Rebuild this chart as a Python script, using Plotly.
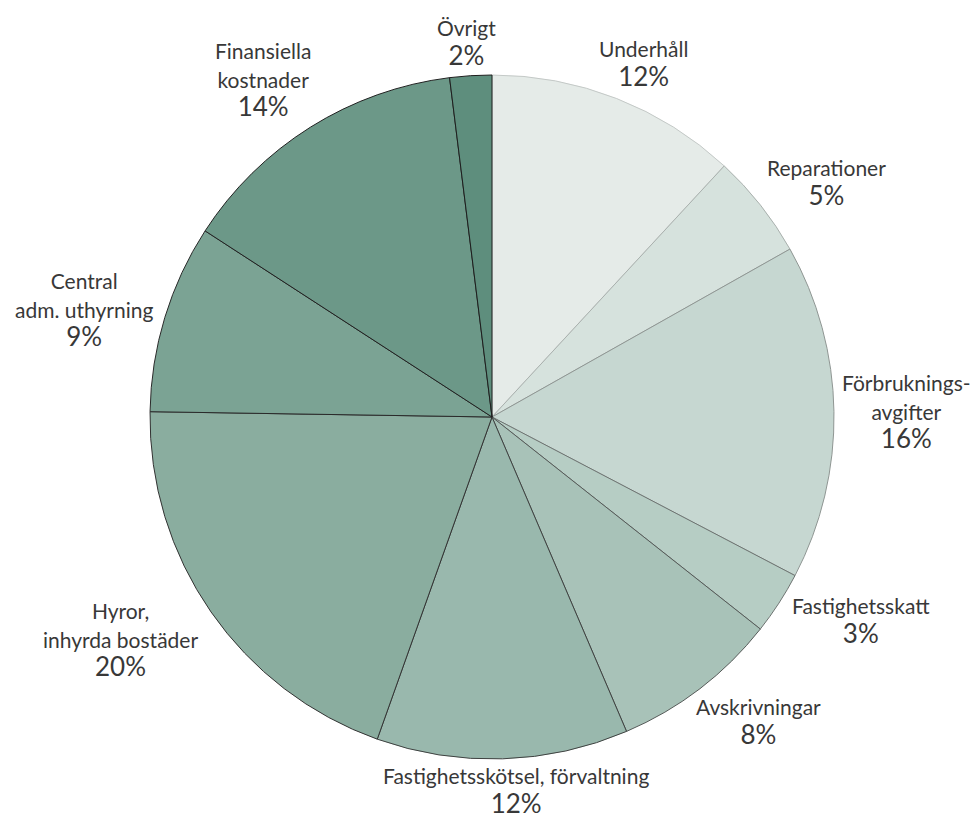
import math
import plotly.graph_objects as go

# Cost breakdown (percent of total)
labels = [
    "Underhåll",
    "Reparationer",
    "Förbruknings-<br>avgifter",
    "Fastighetsskatt",
    "Avskrivningar",
    "Fastighetsskötsel, förvaltning",
    "Hyror,<br>inhyrda bostäder",
    "Central<br>adm. uthyrning",
    "Finansiella<br>kostnader",
    "Övrigt",
]
values = [12, 5, 16, 3, 8, 12, 20, 9, 14, 2]

slice_colors = [
    "#e5ebe8", "#d6e2dd", "#c6d7d1", "#b6cdc4", "#a8c2b8",
    "#99b8ad", "#8aad9f", "#7ba394", "#6c9888", "#5e8e7d",
]
edge_colors = [
    "#c4c9c7", "#a9b0ad", "#8f9693", "#6e7472", "#555a58",
    "#3f4241", "#333333", "#2a2a2a", "#222222", "#1e1e1e",
]

FONT = "Lato, 'Open Sans', sans-serif"
NAME_SIZE = 21
PCT_SIZE = 26
BASE_SIZE = 22
LINE_H = BASE_SIZE * 1.3
TEXT_COLOR = "#383838"

W, H = 976, 819
MARGIN = dict(l=150, r=142, t=75, b=60)
PLOT_PX = W - MARGIN["l"] - MARGIN["r"]      # square plot area, pie fills it
RADIUS_PX = PLOT_PX / 2
GAP_PX = 8
CLEAR_PX = 4


def rich_label(name, value):
    lines = [f"<span style='font-size:{NAME_SIZE}px'>{ln}</span>" for ln in name.split("<br>")]
    lines.append(f"<span style='font-size:{PCT_SIZE}px'>{value}%</span>")
    return "<br>".join(lines)


def half_extent(name, value):
    """Rough half width / half height of a label block in pixels."""
    name_lines = name.split("<br>")
    w = max(max(len(s) * NAME_SIZE * 0.47 for s in name_lines),
            len(f"{value}%") * PCT_SIZE * 0.62) / 2
    h = len(name_lines) * LINE_H / 2 + 10
    return w, h


def label_offset(sx, sy, w, h):
    """Offset of a label centre from the rim point at the slice's mid angle."""
    ox = math.copysign(w * abs(sx) ** 0.7, sx) + GAP_PX * sx
    oy = math.copysign(h * sy * sy, sy) + GAP_PX * sy
    return ox, oy


def box_dist(cx, cy, w, h):
    """Distance from the pie centre to the nearest point of a label box."""
    nx = max(0.0, abs(cx) - w)
    ny = max(0.0, abs(cy) - h)
    return math.hypot(nx, ny)


def clear_rim(cx, cy, sx, sy, w, h):
    """Push a label outwards along its radius until it clears the rim."""
    target = RADIUS_PX + CLEAR_PX
    if box_dist(cx, cy, w, h) >= target:
        return cx, cy
    lo, hi = 0.0, RADIUS_PX
    for _ in range(60):
        t = (lo + hi) / 2
        if box_dist(cx + t * sx, cy + t * sy, w, h) < target:
            lo = t
        else:
            hi = t
    return cx + hi * sx, cy + hi * sy


fig = go.Figure(
    go.Pie(
        labels=labels,
        values=values,
        sort=False,
        direction="clockwise",
        rotation=0,
        automargin=False,
        marker=dict(colors=slice_colors, line=dict(color=edge_colors, width=1)),
        textinfo="none",
        hoverinfo="skip",
        showlegend=False,
    )
)

# Labels sit just outside the rim, around each slice's mid angle
total = sum(values)
cum = 0.0
for name, v in zip(labels, values):
    theta = (cum + v / 2) / total * 2 * math.pi
    cum += v
    sx, sy = math.sin(theta), math.cos(theta)
    w, h = half_extent(name, v)
    ox, oy = label_offset(sx, sy, w, h)
    cx, cy = clear_rim(RADIUS_PX * sx + ox, RADIUS_PX * sy + oy, sx, sy, w, h)
    fig.add_annotation(
        x=0.5 + cx / PLOT_PX,
        y=0.5 + cy / PLOT_PX,
        xref="paper",
        yref="paper",
        text=rich_label(name, v),
        showarrow=False,
        xanchor="center",
        yanchor="middle",
        align="center",
        font=dict(family=FONT, size=BASE_SIZE, color=TEXT_COLOR),
    )

fig.update_layout(
    width=W,
    height=H,
    margin=dict(**MARGIN, autoexpand=False),
    paper_bgcolor="white",
    plot_bgcolor="white",
)

fig.write_html("out.html")
